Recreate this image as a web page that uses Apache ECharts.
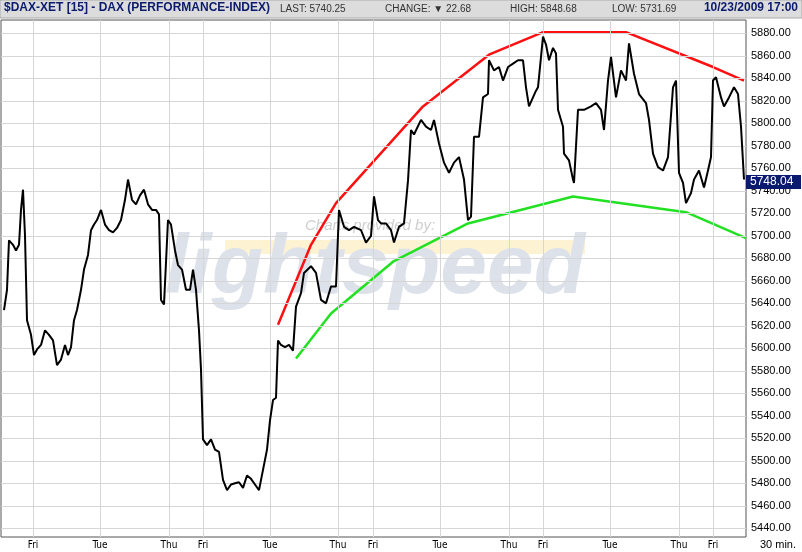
<!DOCTYPE html>
<html>
<head>
<meta charset="utf-8">
<script src="https://cdn.jsdelivr.net/npm/echarts@6/dist/echarts.min.js"></script>
<style>html,body{margin:0;padding:0;background:#fff}#c{width:802px;height:552px}</style>
</head>
<body>
<div id="c"></div>
<script>
// price path (x = bar position along session, value = index level)
const barPos = [3,6,8,12,15,18,20,22,24,26,30,33,36,40,44,48,52,56,60,64,67,70,73,76,80,83,87,90,93,96,100,104,108,112,116,120,124,127,131,135,139,143,147,151,155,158,160,163,167,170,174,177,181,185,189,192,195,198,200,202,206,210,214,218,222,226,230,234,238,242,246,250,254,258,262,266,269,272,275,277,280,284,288,292,295,300,303,310,315,320,325,330,335,338,343,348,353,360,365,370,373,377,380,385,390,393,398,403,407,410,413,420,425,430,433,438,443,448,453,458,463,467,470,473,478,482,487,488,493,498,502,507,512,517,522,525,528,535,537,542,545,548,552,555,557,562,563,568,572,573,577,583,590,595,600,603,607,610,615,620,625,628,633,638,645,648,652,657,662,667,672,675,678,682,685,690,693,698,703,707,710,712,715,720,723,728,733,737,740,743];
const closes = [5634,5652,5696,5692,5687,5692,5723,5741,5700,5625,5612,5594,5599,5603,5616,5612,5607,5585,5590,5603,5594,5601,5625,5634,5652,5670,5683,5705,5710,5714,5723,5710,5705,5703,5707,5714,5732,5750,5732,5728,5736,5741,5728,5723,5723,5719,5643,5639,5714,5710,5687,5674,5670,5652,5652,5670,5652,5616,5581,5519,5514,5519,5510,5508,5483,5474,5479,5480,5481,5476,5487,5484,5479,5474,5492,5510,5536,5554,5556,5607,5603,5601,5603,5598,5637,5649,5667,5673,5667,5643,5640,5655,5655,5723,5708,5705,5708,5705,5694,5700,5735,5714,5711,5711,5705,5694,5708,5711,5749,5794,5790,5803,5797,5794,5803,5782,5765,5756,5765,5770,5750,5714,5717,5788,5788,5823,5826,5856,5847,5850,5838,5850,5853,5856,5856,5832,5815,5829,5832,5877,5870,5856,5867,5862,5812,5797,5773,5767,5750,5747,5812,5812,5815,5818,5812,5794,5838,5859,5823,5847,5838,5871,5844,5826,5818,5803,5773,5761,5758,5770,5832,5838,5756,5747,5729,5738,5750,5758,5743,5758,5770,5838,5841,5823,5815,5823,5832,5826,5797,5750];

// hand-drawn trend lines
const resistancePos = [277,310,335,422,488,542,625,712,743];
const resistanceVal = [5621,5692,5729,5815,5861,5881,5881,5850,5838];
const supportPos = [295,330,392,467,572,685,745];
const supportVal = [5591,5631,5677,5711,5735,5721,5698];

const yTicks = [5440,5460,5480,5500,5520,5540,5560,5580,5600,5620,5640,5660,5680,5700,5720,5740,5760,5780,5800,5820,5840,5860,5880];
const dayTicks = [32,99,168,202,269,337,372,439,508,542,609,678,712];
const dayNames = ['Fri','Tue','Thu','Fri','Tue','Thu','Fri','Tue','Thu','Fri','Tue','Thu','Fri'];
const lastPrice = 5748.04;

const NAVY = '#0a1a6e';
const GRID = '#d6d6d6';
const chart = echarts.init(document.getElementById('c'));
const zip = (a, b) => a.map((v, i) => [v, b[i]]);

chart.setOption({
  animation: false,
  backgroundColor: '#fff',
  grid: { left: 1, right: 56, top: 20, bottom: 15, show: true, borderColor: '#555', borderWidth: 1 },
  xAxis: {
    type: 'value', min: 0, max: 745,
    axisLine: { show: false }, axisTick: { show: false }, splitLine: { show: false },
    axisLabel: {
      customValues: dayTicks, margin: 3, fontSize: 10, color: '#000', fontFamily: 'DejaVu Sans Condensed, Liberation Sans',
      formatter: (v) => dayNames[dayTicks.indexOf(v)] || ''
    }
  },
  yAxis: {
    type: 'value', position: 'right', min: 5432.3, max: 5891.8,
    axisLine: { show: false }, axisTick: { show: false }, splitLine: { show: false },
    axisLabel: {
      customValues: yTicks, margin: 5, fontSize: 11, color: '#000', fontFamily: 'Liberation Sans',
      formatter: (v) => v.toFixed(2)
    }
  },
  series: [
    {
      type: 'line', silent: true, symbol: 'none', data: [],
      markLine: {
        silent: true, symbol: 'none', label: { show: false },
        lineStyle: { color: GRID, width: 1, type: 'solid' },
        data: yTicks.map((v) => ({ yAxis: v })).concat(dayTicks.map((v) => ({ xAxis: v })))
      }
    },
    { type: 'line', data: zip(resistancePos, resistanceVal), symbol: 'none', z: 4, lineStyle: { color: '#ff1010', width: 2.5 } },
    { type: 'line', data: zip(supportPos, supportVal), symbol: 'none', z: 4, lineStyle: { color: '#22e022', width: 2.5 } },
    { type: 'line', data: zip(barPos, closes), symbol: 'none', z: 5, lineStyle: { color: '#000', width: 2 } }
  ],
  graphic: [
    { type: 'rect', z: 0, shape: { x: 225, y: 240, width: 360, height: 14 }, style: { fill: '#fdf3d2' } },
    { type: 'text', z: 0, left: 165, top: 228, style: { text: 'lightspeed', font: 'italic bold 84px Arial, Liberation Sans', fill: '#dde2ea' } },
    { type: 'text', z: 0, left: 305, top: 218, style: { text: 'Charts provided by:', font: 'italic 15px Liberation Sans', fill: '#cfcfcf' } },
    { type: 'rect', z: 10, shape: { x: 0, y: 0, width: 802, height: 18 }, style: { fill: '#dcdcdc', stroke: '#aaa' } },
    { type: 'text', z: 11, left: 4, top: 2, style: { text: '$DAX-XET [15] - DAX (PERFORMANCE-INDEX)', font: 'bold 12px Liberation Sans Narrow, Liberation Sans', fill: NAVY } },
    { type: 'text', z: 11, left: 280, top: 4, style: { text: 'LAST: 5740.25', font: '10px Liberation Sans Narrow, Liberation Sans', fill: '#333' } },
    { type: 'text', z: 11, left: 385, top: 4, style: { text: 'CHANGE: \u25bc 22.68', font: '10px Liberation Sans Narrow, Liberation Sans', fill: '#333' } },
    { type: 'text', z: 11, left: 510, top: 4, style: { text: 'HIGH: 5848.68', font: '10px Liberation Sans Narrow, Liberation Sans', fill: '#333' } },
    { type: 'text', z: 11, left: 612, top: 4, style: { text: 'LOW: 5731.69', font: '10px Liberation Sans Narrow, Liberation Sans', fill: '#333' } },
    { type: 'text', z: 11, right: 4, top: 2, style: { text: '10/23/2009 17:00', font: 'bold 12px Liberation Sans Narrow, Liberation Sans', fill: NAVY } },
    { type: 'text', z: 11, right: 6, bottom: 2, style: { text: '30 min.', font: '11px Liberation Sans', fill: '#000' } },
    { type: 'rect', z: 11, shape: { x: 746, y: 175, width: 55, height: 14 }, style: { fill: NAVY } },
    { type: 'text', z: 12, left: 750, top: 176, style: { text: lastPrice.toFixed(2), font: '12px Liberation Sans', fill: '#fff' } }
  ]
});
</script>
</body>
</html>
